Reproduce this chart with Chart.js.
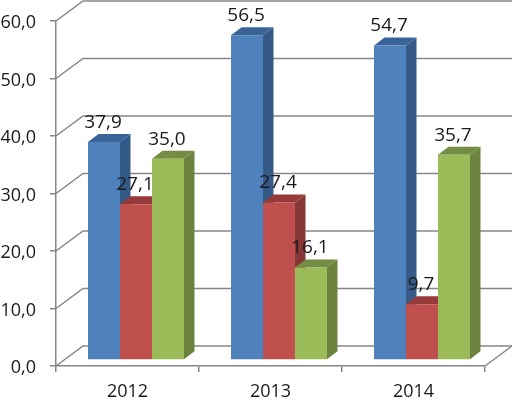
<!DOCTYPE html>
<html>
<head>
<meta charset="utf-8">
<style>
  html, body { margin: 0; padding: 0; background: #fff; }
  canvas { display: block; }
</style>
<script src="https://cdn.jsdelivr.net/npm/chart.js@4"></script>
</head>
<body>
<canvas id="myChart" width="513" height="399"></canvas>
<script>
const years = ["2012", "2013", "2014"];
const blueValues = [37.9, 56.5, 54.7];
const redValues = [27.1, 27.4, 9.7];
const greenValues = [35.0, 16.1, 35.7];
const yTickValues = [0, 10, 20, 30, 40, 50, 60];

const gridColor = "#868686";
const fontName = "'Open Sans'";

function comma(v) {
  return v.toFixed(1).replace(".", ",");
}

// fake 3d: bars sit a little inside the floor, with a side and top face
const shiftX = 8.5, shiftY = -6;
const depthX = 10.5, depthY = -8;
const wallX = 27, wallY = -20;

const fake3d = {
  id: "fake3d",
  beforeDatasetsDraw(chart) {
    const ctx = chart.ctx;
    const area = chart.chartArea;
    const y = chart.scales.y;
    ctx.save();
    ctx.strokeStyle = gridColor;
    ctx.lineWidth = 1.5;
    yTickValues.forEach(function (v) {
      const py = y.getPixelForValue(v);
      ctx.beginPath();
      ctx.moveTo(area.left, py);
      ctx.lineTo(area.left + wallX, py + wallY);
      ctx.lineTo(area.right + wallX, py + wallY);
      ctx.stroke();
    });
    // right edge of the floor
    ctx.beginPath();
    ctx.moveTo(area.right, y.getPixelForValue(0));
    ctx.lineTo(area.right + wallX, y.getPixelForValue(0) + wallY);
    ctx.stroke();
    ctx.restore();

    // side and top faces, left series first; the fronts are drawn after all of them
    ctx.save();
    ctx.translate(shiftX, shiftY);
    chart.data.datasets.forEach(function (ds, i) {
      chart.getDatasetMeta(i).data.forEach(function (bar) {
        const left = bar.x - bar.width / 2;
        const right = bar.x + bar.width / 2;
        const top = bar.y;
        const base = bar.base;
        ctx.fillStyle = ds.sideColor;
        ctx.beginPath();
        ctx.moveTo(right, top);
        ctx.lineTo(right + depthX, top + depthY);
        ctx.lineTo(right + depthX, base + depthY);
        ctx.lineTo(right, base);
        ctx.closePath();
        ctx.fill();
        ctx.fillStyle = ds.topColor;
        ctx.beginPath();
        ctx.moveTo(left, top);
        ctx.lineTo(left + depthX, top + depthY);
        ctx.lineTo(right + depthX, top + depthY);
        ctx.lineTo(right, top);
        ctx.closePath();
        ctx.fill();
      });
    });
  },
  afterDatasetsDraw(chart) {
    const ctx = chart.ctx;
    ctx.restore();
    ctx.save();
    ctx.font = "19px " + fontName;
    ctx.fillStyle = "#1a1a1a";
    ctx.textAlign = "center";
    ctx.textBaseline = "alphabetic";
    chart.data.datasets.forEach(function (ds, i) {
      chart.getDatasetMeta(i).data.forEach(function (bar, j) {
        ctx.fillText(comma(ds.data[j]), bar.x + shiftX - 1, bar.y + shiftY - 14);
      });
    });
    ctx.restore();
  }
};

const config = {
  type: "bar",
  data: {
    labels: years,
    datasets: [
      { label: "a", data: blueValues, backgroundColor: "#4f81bd", sideColor: "#355a88", topColor: "#3a6497" },
      { label: "b", data: redValues, backgroundColor: "#c0504d", sideColor: "#863836", topColor: "#953a38" },
      { label: "c", data: greenValues, backgroundColor: "#9bbb59", sideColor: "#6c833e", topColor: "#748c43" }
    ]
  },
  options: {
    responsive: false,
    animation: false,
    events: [],
    layout: { padding: { top: 21, right: 28, bottom: 0, left: 0 } },
    plugins: {
      legend: { display: false },
      title: { display: false },
      tooltip: { enabled: false }
    },
    datasets: { bar: { barPercentage: 1, categoryPercentage: 0.671, clip: false } },
    scales: {
      x: {
        grid: { drawOnChartArea: false, color: gridColor, tickColor: gridColor, tickLength: 6, lineWidth: 1.5 },
        border: { color: gridColor, width: 1.5 },
        ticks: { color: "#1a1a1a", font: { family: fontName, size: 18 }, padding: 9, maxRotation: 0 },
        afterFit(scale) { scale.height = 33; }
      },
      y: {
        min: 0,
        max: 60,
        afterBuildTicks(scale) {
          scale.ticks = yTickValues.map(function (v) { return { value: v }; });
        },
        grid: { drawOnChartArea: false, color: gridColor, tickColor: gridColor, tickLength: 6, lineWidth: 1.5 },
        border: { color: gridColor, width: 1.5 },
        ticks: {
          color: "#1a1a1a",
          font: { family: fontName, size: 18 },
          padding: 14,
          labelOffset: 2,
          callback: function (value) { return comma(value); }
        },
        afterFit(scale) {
          scale.width = 56;
          // tick label overhang would otherwise push the plot top down
          scale.paddingTop = 0;
          scale.paddingBottom = 0;
        }
      }
    }
  },
  plugins: [fake3d]
};

const ctx = document.getElementById("myChart").getContext("2d");
const myChart = new Chart(ctx, config);
</script>
</body>
</html>
